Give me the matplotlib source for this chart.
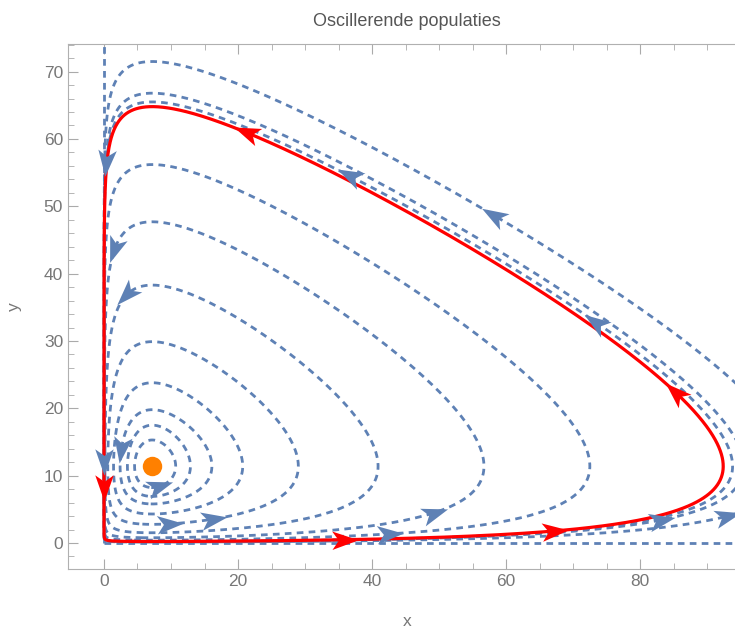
import numpy as np
import matplotlib.pyplot as plt
import contourpy
from matplotlib.markers import MarkerStyle
from matplotlib.path import Path
from matplotlib.transforms import Affine2D

# evenwicht (oranje stip)
eq_x = 7.2
eq_y = 11.4
# verhouding groeisnelheden, alleen voor de richting van de pijlen
ratio = 2.8

# stroomlijnen: meest rechtse x (bij y = eq_y) en hoogste y (bij x = eq_x)
orbit_right = [10.7, 12.9, 16.1, 20.7, 29.0, 40.9, 56.7, 72.5, 93.8, 95.5, 102.6]
orbit_top = [15.3, 17.5, 19.8, 23.8, 29.9, 38.3, 47.7, 56.2, 65.5, 66.8, 71.5]

# rode oplossing
red_right = 92.4
red_top = 64.8

blue_arrow_x = [0.4, 1.6, 3.6, 2.7, 0.0, 8.4, 16.3, 9.9, 49.1, 42.7, 36.0, 57.6, 71.5, 83.3, 93.4]
blue_arrow_y = [56.5, 43.5, 36.6, 13.8, 12.0, 8.2, 4.6, 2.4, 5.2, 1.6, 53.5, 48.0, 30.2, 3.0, 3.0]
red_arrow_x = [21.0, 83.0, 0.0, 36.0, 67.3]
red_arrow_y = [60.3, 20.0, 8.2, 0.3, 0.9]

blue = '#5E81B5'
red = '#FF0000'
orange = '#FF8000'

xs = np.concatenate([np.geomspace(1e-5, 0.99, 200), np.linspace(1, 115, 1500)])
ys = np.concatenate([np.geomspace(1e-5, 0.99, 200), np.linspace(1, 85, 1100)])
X, Y = np.meshgrid(xs, ys)


def vx(x):
    return x / eq_x - np.log(x / eq_x) - 1


def vy(y):
    return y / eq_y - np.log(y / eq_y) - 1


def orbit(R, T):
    F = vx(X) / vx(R) + vy(Y) / vy(T) - 1
    gen = contourpy.contour_generator(xs, ys, F)
    return gen.lines(0)


def field(x, y):
    return ratio * x * (1 - y / eq_y), y * (x / eq_x - 1)


arrow_path = Path([(1, 0), (-1, 0.7), (-0.5, 0), (-1, -0.7), (1, 0)],
                  [Path.MOVETO, Path.LINETO, Path.LINETO, Path.LINETO, Path.CLOSEPOLY])


def draw_arrows(ax, px, py, curves, color, size):
    for x0, y0 in zip(px, py):
        best = None
        for c in curves:
            d = np.hypot(c[:, 0] - x0, c[:, 1] - y0)
            i = int(np.argmin(d))
            if best is None or d[i] < best[0]:
                best = (d[i], c, i)
        _, c, i = best
        i = min(max(i, 1), len(c) - 2)
        tx, ty = c[i + 1] - c[i - 1]
        fx, fy = field(c[i, 0], c[i, 1])
        if tx * fx + ty * fy < 0:
            tx, ty = -tx, -ty
        ang = np.degrees(np.arctan2(ty * 6.73, tx * 6.7))
        m = MarkerStyle(arrow_path, transform=Affine2D().rotate_deg(ang))
        ax.plot(c[i, 0], c[i, 1], marker=m, markersize=size, color=color,
                markeredgewidth=0, linestyle='none', zorder=5)


plt.rcParams['font.family'] = ['Liberation Sans', 'DejaVu Sans']

fig = plt.figure(figsize=(7.35, 6.29), dpi=100, facecolor='w')
ax = fig.add_axes([68 / 735, 60 / 629, 678 / 735, 525 / 629])

blue_curves = []
for R, T in zip(orbit_right, orbit_top):
    blue_curves += orbit(R, T)
blue_curves.append(np.column_stack([np.zeros(200), np.linspace(0, 85, 200)]))
blue_curves.append(np.column_stack([np.linspace(0, 115, 300), np.zeros(300)]))

for c in blue_curves:
    ax.plot(c[:, 0], c[:, 1], color=blue, lw=2.0, dashes=(2.4, 1.9), zorder=2)

red_curves = orbit(red_right, red_top)
for c in red_curves:
    ax.plot(c[:, 0], c[:, 1], color=red, lw=2.3, zorder=3)

draw_arrows(ax, blue_arrow_x, blue_arrow_y, blue_curves, blue, 19)
draw_arrows(ax, red_arrow_x, red_arrow_y, red_curves, red, 19)

ax.plot(eq_x, eq_y, 'o', color=orange, markersize=14, markeredgewidth=0, zorder=6)

ax.set_xlim(-5.37, 95.8)
ax.set_ylim(-3.86, 74.1)
ax.set_xticks([0, 20, 40, 60, 80])
ax.set_xticks(np.arange(0, 95, 5), minor=True)
ax.set_yticks(np.arange(0, 80, 10))
ax.set_yticks(np.arange(-2, 75, 2), minor=True)
ax.tick_params(which='both', direction='in', top=True, right=True,
               color='#aaaaaa', labelcolor='#777777', labelsize=12.5)
ax.tick_params(which='major', length=7)
ax.tick_params(which='minor', length=4)
for s in ax.spines.values():
    s.set_color('#b0b0b0')

ax.set_title('Oscillerende populaties', color='#555555', fontsize=13, pad=13)
ax.set_xlabel('x', color='#777777', fontsize=12.5, labelpad=18)
ax.set_ylabel('y', color='#777777', fontsize=12.5, labelpad=16)

plt.savefig('out.png', dpi=100)
